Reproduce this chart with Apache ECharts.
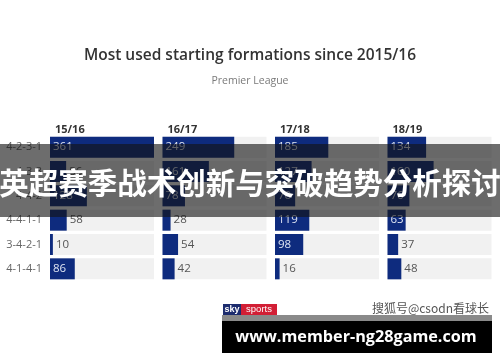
<!DOCTYPE html>
<html><head><meta charset="utf-8">
<script src="https://cdn.jsdelivr.net/npm/echarts@6/dist/echarts.min.js"></script>
<style>html,body{margin:0;padding:0;background:#fff}#c{width:500px;height:362px}</style>
</head><body><div id="c"></div>
<script>
const formations = ['4-2-3-1','4-3-3','4-4-2','4-4-1-1','3-4-2-1','4-1-4-1'];
const seasons = ['15/16','16/17','17/18','18/19'];
const s1516 = [361, 56, 128, 58, 10, 86];
const s1617 = [249, 161, 78, 28, 54, 42];
const s1718 = [185, 127, 70, 119, 98, 16];
const s1819 = [134, 160, 76, 63, 37, 48];
const seasonValues = [s1516, s1617, s1718, s1819];
const maxValue = 361;

const FONT = '"Open Sans", Lato, sans-serif';
const colLeft = [50, 162.5, 275, 387.5];
const colWidth = 104;
const gridTop = 135, gridHeight = 146;

const grids = [], xAxes = [], yAxes = [], series = [], titles = [];
titles.push({text:'Most used starting formations since 2015/16', left:'center', top:43,
  textStyle:{fontFamily:FONT, fontSize:15.5, fontWeight:600, color:'#333'}});
titles.push({text:'Premier League', left:'center', top:71,
  textStyle:{fontFamily:FONT, fontSize:10.5, fontWeight:'normal', color:'#7a7a7a'}});
seasons.forEach((s, i) => {
  titles.push({text:s, left:colLeft[i], top:119,
    textStyle:{fontFamily:FONT, fontSize:11, fontWeight:'bold', color:'#333'}});
  grids.push({left:colLeft[i], top:gridTop, width:colWidth, height:gridHeight});
  xAxes.push({type:'value', gridIndex:i, min:0, max:maxValue, show:false});
  yAxes.push({type:'category', gridIndex:i, data:formations, inverse:true,
    axisLine:{show:false}, axisTick:{show:false}, splitLine:{show:false},
    axisLabel:{show:i===0, margin:8, color:'#666', fontFamily:FONT, fontSize:11}});
  series.push({type:'bar', xAxisIndex:i, yAxisIndex:i, barWidth:21,
    showBackground:true, backgroundStyle:{color:'#f1f1f1'},
    itemStyle:{color:'#0e2b7e'},
    data: seasonValues[i].map(v => ({
      value: v,
      label: v >= 60
        ? {show:true, position:'insideLeft', distance:3, color:'#dfe5f3', fontFamily:FONT, fontSize:11.5}
        : {show:true, position:'right', distance:3, color:'#555', fontFamily:FONT, fontSize:11.5}
    }))
  });
});

const chart = echarts.init(document.getElementById('c'), null, {renderer:'canvas'});
chart.setOption({
  animation:false,
  title: titles,
  grid: grids, xAxis: xAxes, yAxis: yAxes, series: series,
  graphic: [
    {type:'rect', z:100, shape:{x:0, y:144, width:500, height:73}, style:{fill:'rgba(20,20,20,0.62)'}},
    {type:'text', z:101, x:250, y:183, style:{text:'英超赛季战术创新与突破趋势分析探讨', fill:'#fff',
      font:'bold 29.5px "Noto Sans CJK SC", sans-serif', textAlign:'center', textVerticalAlign:'middle'}},
    {type:'rect', z:100, shape:{x:223, y:304, width:18, height:11}, style:{fill:'#1d2c6e'}},
    {type:'rect', z:100, shape:{x:241, y:304, width:36, height:11}, style:{fill:'#d21f35'}},
    {type:'text', z:101, x:232, y:309.5, style:{text:'sky', fill:'#fff', font:'bold 9px Arial, sans-serif', textAlign:'center', textVerticalAlign:'middle'}},
    {type:'text', z:101, x:259, y:309.5, style:{text:'sports', fill:'#fff', font:'9.5px Arial, sans-serif', textAlign:'center', textVerticalAlign:'middle'}},
    {type:'text', z:101, x:489, y:308, style:{text:'搜狐号@csodn看球长', fill:'#555', font:'12px "Noto Sans CJK SC", sans-serif', textAlign:'right', textVerticalAlign:'middle'}},
    {type:'rect', z:100, shape:{x:222, y:315, width:270, height:6}, style:{fill:'#8a8a8a'}},
    {type:'rect', z:100, shape:{x:222, y:321, width:270, height:32}, style:{fill:'#000'}},
    {type:'text', z:101, x:356, y:337, style:{text:'www.member-ng28game.com', fill:'#fff',
      font:'bold 16.2px "Open Sans", sans-serif', textAlign:'center', textVerticalAlign:'middle'}}
  ]
});
</script></body></html>
